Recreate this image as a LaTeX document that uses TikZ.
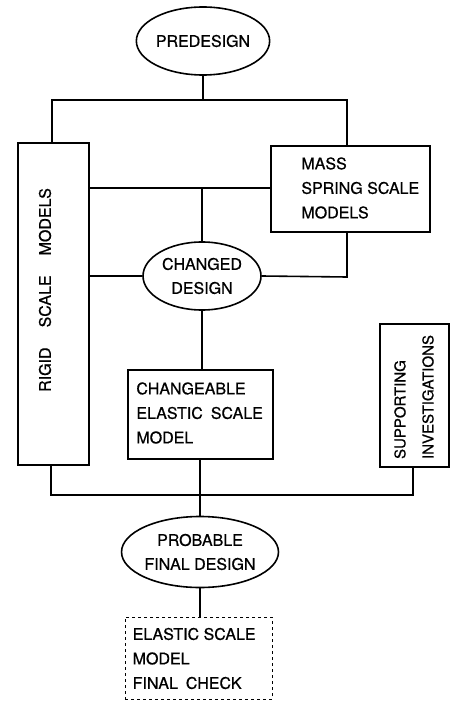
\documentclass[tikz,border=0pt]{standalone}
\usepackage{fontspec}
\setmainfont{TeX Gyre Heros}[FakeBold=0.7]
\usetikzlibrary{shapes.geometric}
\begin{document}
\begin{tikzpicture}[x=1pt,y=-1pt,
  every node/.style={font=\fontsize{16}{24.5}\selectfont},
  oval/.style={draw, ellipse, line width=1.6pt, inner sep=0pt, align=center},
  boxnode/.style={draw, rectangle, line width=1.6pt, inner sep=0pt},
  txt/.style={inner sep=0pt, align=left},
  conn/.style={line width=1.6pt}]
\useasboundingbox (0,0) rectangle (456,703);
% nodes
\node[oval, minimum width=117pt, minimum height=68pt] (pre) at (203,41) {PREDESIGN};
\node[boxnode, minimum width=71pt, minimum height=322pt] (rigid) at (53.5,304) {};
\node[txt, rotate=90] (rigidT) at (45,290) {RIGID\hspace{20pt}SCALE\hspace{20pt}MODELS};
\node[boxnode, minimum width=159pt, minimum height=86pt] (mass) at (350.5,189) {};
\node[txt, anchor=west] (massT) at ([xshift=31pt,yshift=1pt]mass.west) {MASS\\SPRING SCALE\\MODELS};
\node[oval, minimum width=118pt, minimum height=68pt, font=\fontsize{16}{24}\selectfont] (chg) at (202,276) {CHANGED\\DESIGN};
\node[boxnode, minimum width=145pt, minimum height=89pt] (cesm) at (200.5,414.5) {};
\node[txt, anchor=west] (cesmT) at ([xshift=9pt,yshift=1.5pt]cesm.west) {CHANGEABLE\\ELASTIC\hspace{8pt}SCALE\\MODEL};
\node[boxnode, minimum width=69pt, minimum height=143pt] (sup) at (414.5,395.5) {};
\node[txt, rotate=90, font=\fontsize{15}{28}\selectfont] (supT) at (414,397) {SUPPORTING\\INVESTIGATIONS};
\node[oval, minimum width=126pt, minimum height=71pt, font=\fontsize{16}{24}\selectfont] (prob) at (200,552) {PROBABLE\\FINAL DESIGN};
\node[boxnode, dashed, line width=1pt, minimum width=147pt, minimum height=82pt] (final) at (198.5,658) {};
\node[txt, anchor=west] (finalT) at ([xshift=8pt,yshift=-0.5pt]final.west) {ELASTIC SCALE\\MODEL\\FINAL\hspace{8pt}CHECK};
% junction coordinates
\coordinate (tl) at (52,100);
\coordinate (tm) at (203,100);
\coordinate (tr) at (347,100);
\coordinate (mm) at (202,188);
\coordinate (cr) at (347,277);
\coordinate (bl) at (51,495);
\coordinate (br) at (413,495);
% connectors
\draw[conn] (pre.south) -- (tm);
\draw[conn] (tl |- rigid.north) -- (tl) -- (tr) -- (tr |- mass.north);
\draw[conn] (mm -| rigid.east) -- (mm -| mass.west);
\draw[conn] (mm) -- (chg.north);
\draw[conn] (chg.west) -- (chg.west -| rigid.east);
\draw[conn] (chg.east) -- (cr) -- (cr |- mass.south);
\draw[conn] (chg.south) -- (chg.south |- cesm.north);
\draw[conn] (bl |- rigid.south) -- (bl) -- (br) -- (br |- sup.south);
\draw[conn] (cesm.south -| prob.north) -- (prob.north);
\draw[conn] (prob.south) -- (prob.south |- final.north);
\end{tikzpicture}
\end{document}
